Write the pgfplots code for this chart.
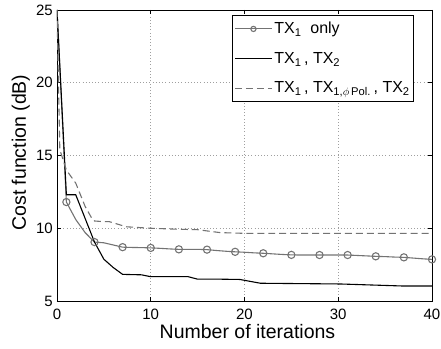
\documentclass[border=0pt]{standalone}
\usepackage{pgfplots}
\pgfplotsset{compat=1.18}
\usepackage{fontspec}
\setmainfont{Liberation Sans}
\definecolor{lgray}{gray}{0.45}
\begin{document}
\begin{tikzpicture}
\begin{axis}[
  scale only axis,
  width=375bp, height=291bp,
  xmin=0, xmax=40, ymin=5, ymax=25,
  xtick={0,10,20,30,40}, ytick={5,10,15,20,25},
  tick align=inside,
  major tick length=4bp,
  grid=major,
  major grid style={dash pattern=on 0.6pt off 2.6pt, gray!75, line width=0.6pt},
  axis line style={line width=0.9pt},
  tick style={black, line width=0.6pt},
  /pgf/number format/assume math mode=true,
  ticklabel style={font=\fontsize{15bp}{17bp}\selectfont},
  xticklabel style={inner sep=0pt, anchor=north, yshift=-8bp},
  yticklabel style={inner sep=0pt, anchor=east, xshift=-4bp},
  xlabel={Number of iterations},
  ylabel={Cost function (dB)},
  label style={font=\fontsize{19.5bp}{21bp}\selectfont, inner sep=0pt},
  xlabel style={at={(axis description cs:0.508,-0.079)}, anchor=north},
  ylabel style={at={(axis description cs:-0.072,0.51)}, anchor=south},
  legend style={at={(0.467,0.983)}, anchor=north west, draw=black, line width=0.9pt,
    font=\fontsize{16bp}{18bp}\selectfont, row sep=13bp, inner xsep=2bp, inner ysep=5bp},
  legend cell align=left,
  legend image code/.code={\draw[#1] (0cm,0cm) -- (1.3cm,0cm); \path[#1, /tikz/mark repeat=1, /tikz/mark phase=1, /tikz/mark size=2.6bp] plot coordinates {(0.65cm,0cm)};},
  legend image post style={line width=0.9pt},
]
\addplot[color=lgray, line width=1.1pt, mark=o, mark size=3.6bp, mark options={solid, line width=1.1pt}, mark phase=2, mark repeat=3] coordinates {
(0,25) (1,11.8) (2,10.6) (3,9.7) (4,9.05) (5,9.0) (6,8.85) (7,8.7) (8,8.68) (9,8.67) (10,8.65)
(11,8.62) (12,8.58) (13,8.55) (14,8.55) (15,8.55) (16,8.53) (17,8.47) (18,8.42) (19,8.38) (20,8.35)
(21,8.31) (22,8.28) (23,8.24) (24,8.2) (25,8.17) (26,8.16) (27,8.16) (28,8.16) (29,8.16) (30,8.16)
(31,8.16) (32,8.13) (33,8.10) (34,8.07) (35,8.05) (36,8.02) (37,8.0) (38,7.95) (39,7.9) (40,7.86)
};
\addlegendentry{TX\textsubscript{1}\ \ only}
\addplot[color=black, line width=1.1pt, mark=none] coordinates {
(0,25) (1,12.3) (2,12.3) (4,9.05) (5,7.87) (6,7.3) (7,6.83) (9,6.8) (10,6.67) (14,6.67) (15,6.5)
(17.4,6.5) (19.5,6.48) (21.7,6.22) (30.2,6.17) (36.9,6.03) (40,6.03)
};
\addlegendentry{TX\textsubscript{1}\,, TX\textsubscript{2}}
\addplot[color=lgray, line width=1.1pt, mark=none, dash pattern=on 7pt off 4pt] coordinates {
(0,25) (0.3,15.4) (1,14.0) (2,13.1) (3,11.5) (3.7,10.7) (4,10.5) (5,10.45) (5.6,10.45) (7.4,10.1) (10,10.0)
(13,9.93) (15,9.9) (17.4,9.7) (20,9.65) (40,9.65)
};
\addlegendentry{TX\textsubscript{1}\,, TX\textsubscript{1,$\phi$\,Pol.}\,, TX\textsubscript{2}}
\end{axis}
\pgfresetboundingbox
\useasboundingbox ([shift={(-57bp,-48bp)}]current axis.south west) rectangle ([shift={(9bp,10bp)}]current axis.north east);
\end{tikzpicture}
\end{document}
